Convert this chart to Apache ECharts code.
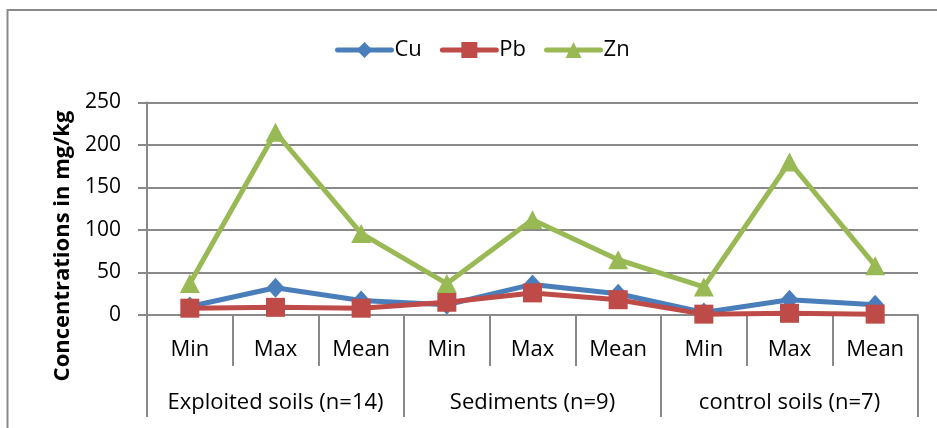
<!DOCTYPE html>
<html lang="en">
<head>
    <meta charset="UTF-8">
    <title>Concentrations</title>
    <script src="https://cdn.jsdelivr.net/npm/echarts@6/dist/echarts.min.js"></script>
    <style>
        html, body { margin: 0; padding: 0; background: #fff; }
        #main { width: 937px; height: 428px; }
    </style>
</head>
<body>
<div id="main"></div>
<script type="text/javascript">
    // categories
    var stats = ['Min', 'Max', 'Mean', 'Min', 'Max', 'Mean', 'Min', 'Max', 'Mean'];
    var groups = ['Exploited soils (n=14)', 'Sediments (n=9)', 'control soils (n=7)'];
    var yTicks = [0, 250, 50]; // min, max, interval

    // series values (mg/kg)
    var cu = [10, 32, 17, 12, 36, 25, 3, 18, 12];
    var pb = [8, 9, 8, 15, 26, 18, 1, 2, 1];
    var zn = [37, 215, 96, 37, 112, 65, 33, 180, 58];

    var font = '"Open Sans", Lato, sans-serif';
    var gray = '#898989';

    var myChart = echarts.init(document.getElementById('main'));

    myChart.setOption({
        backgroundColor: '#ffffff',
        animation: false,
        color: ['#4A7EBB', '#BE4B48', '#98B954'],
        legend: {
            top: 34,
            left: 330,
            itemWidth: 54,
            itemHeight: 20,
            itemGap: 18,
            lineStyle: {width: 5, cap: 'round'},
            textStyle: {fontFamily: font, fontSize: 22, color: '#000', padding: [0, 0, 0, -2]},
            data: ['Cu', 'Pb', 'Zn']
        },
        grid: {
            left: 147,
            right: 19,
            top: 102.5,
            bottom: 113
        },
        graphic: [
            {
                // outer frame (left + top)
                type: 'polyline',
                shape: {points: [[7.5, 440], [7.5, 10], [950, 10]]},
                style: {stroke: gray, lineWidth: 2, fill: null}
            },
            {
                type: 'text',
                x: 63,
                y: 246,
                rotation: Math.PI / 2,
                style: {
                    text: 'Concentrations in mg/kg',
                    fontFamily: font,
                    fontSize: 22,
                    fontWeight: 'bold',
                    fill: '#000',
                    align: 'center',
                    verticalAlign: 'middle'
                }
            }
        ],
        xAxis: [
            {
                type: 'category',
                data: stats,
                position: 'bottom',
                axisLine: {lineStyle: {color: gray, width: 2}},
                axisTick: {show: true, length: 51, lineStyle: {color: gray, width: 2}},
                axisLabel: {
                    interval: 0, margin: 24, color: '#000',
                    fontFamily: font, fontSize: 22
                }
            },
            {
                type: 'category',
                data: groups,
                position: 'bottom',
                axisLine: {show: false},
                axisTick: {show: true, length: 102, lineStyle: {color: gray, width: 2}},
                axisLabel: {
                    interval: 0, margin: 77, color: '#000',
                    fontFamily: font, fontSize: 22
                }
            }
        ],
        yAxis: {
            type: 'value',
            min: yTicks[0],
            max: yTicks[1],
            interval: yTicks[2],
            axisLine: {show: true, lineStyle: {color: gray, width: 2}},
            axisTick: {show: true, length: 9, lineStyle: {color: gray, width: 2}},
            axisLabel: {margin: 26, color: '#000', fontFamily: font, fontSize: 21},
            splitLine: {lineStyle: {color: gray, width: 2}}
        },
        series: [
            {
                name: 'Cu',
                type: 'line',
                data: cu,
                symbol: 'diamond',
                symbolSize: [18, 20],
                lineStyle: {width: 5},
                z: 2
            },
            {
                name: 'Pb',
                type: 'line',
                data: pb,
                symbol: 'rect',
                symbolSize: 19,
                lineStyle: {width: 5},
                z: 3
            },
            {
                name: 'Zn',
                type: 'line',
                data: zn,
                symbol: 'triangle',
                symbolSize: [20, 19],
                lineStyle: {width: 5},
                z: 4
            }
        ]
    });
</script>
</body>
</html>
